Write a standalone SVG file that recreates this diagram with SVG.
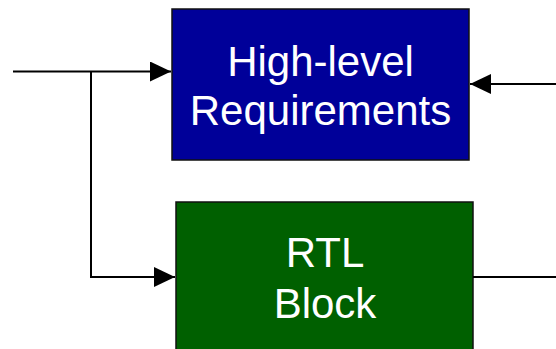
<svg xmlns="http://www.w3.org/2000/svg" width="556" height="349" viewBox="0 0 556 349">
<style>
.lbl{font-family:"Liberation Sans",Arial,sans-serif;font-size:42px;fill:#ffffff;text-anchor:middle}
.wire{stroke:#000;stroke-width:2;fill:none}
</style>
<defs>
<marker id="ah" markerUnits="userSpaceOnUse" markerWidth="22" markerHeight="20" refX="21" refY="10" orient="auto">
<path d="M0,0 L21,10 L0,20 Z" fill="#000"/>
</marker>
</defs>
<rect width="556" height="349" fill="#fff"/>
<g id="hlr">
<rect x="172" y="9" width="297" height="151" fill="#000099" stroke="#111" stroke-width="1.5"/>
<text class="lbl" x="320.5" y="76">High-level</text>
<text class="lbl" x="320.5" y="125">Requirements</text>
</g>
<g id="rtl">
<rect x="176" y="202" width="297" height="160" fill="#006000" stroke="#111" stroke-width="1.5"/>
<text class="lbl" x="325" y="267">RTL</text>
<text class="lbl" x="325" y="318">Block</text>
</g>
<g id="connectors">
<path class="wire" d="M13,71.5 H171" marker-end="url(#ah)"/>
<path class="wire" d="M91,71.5 V277 H175" marker-end="url(#ah)"/>
<path class="wire" d="M556,84 H470" marker-end="url(#ah)"/>
<path class="wire" d="M473,277 H556"/>
</g>
</svg>
